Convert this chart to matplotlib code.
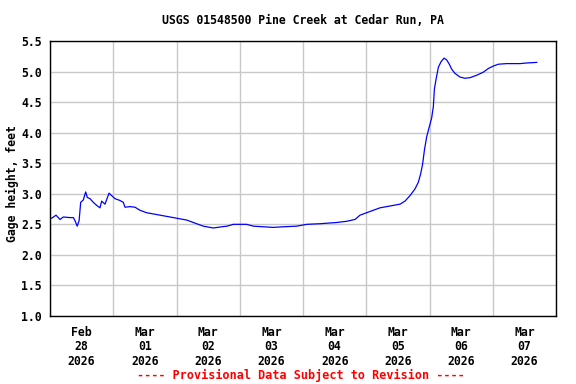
"""USGS gage height plot for Pine Creek at Cedar Run."""
import matplotlib
matplotlib.use("Agg")
import matplotlib.pyplot as plt
import matplotlib.dates as mdates
import pandas as pd

# ── data: days since 2026-02-28 00:00 and gage height (ft) ───────────────────
start = pd.Timestamp("2026-02-28")
days = [0.0, 0.027, 0.095, 0.158, 0.21, 0.316, 0.37, 0.395, 0.43, 0.46,
        0.485, 0.527, 0.564, 0.59, 0.632, 0.685, 0.738, 0.79, 0.817, 0.87,
        0.933, 0.975, 1.028, 1.107, 1.159, 1.186, 1.265, 1.344, 1.423, 1.528,
        1.687, 1.845, 2.003, 2.161, 2.266, 2.424, 2.582, 2.714, 2.80, 2.898,
        3.0, 3.108, 3.215, 3.372, 3.53, 3.689, 3.9, 4.058, 4.269, 4.532,
        4.691, 4.822, 4.901, 5.059, 5.217, 5.375, 5.534, 5.613, 5.692, 5.771,
        5.824, 5.861, 5.892, 5.919, 5.955, 5.998, 6.034, 6.061, 6.077, 6.103,
        6.14, 6.182, 6.229, 6.272, 6.313, 6.35, 6.403, 6.482, 6.561, 6.64,
        6.746, 6.851, 6.93, 7.009, 7.088, 7.22, 7.325, 7.431, 7.536, 7.695]
gage = [2.60, 2.60, 2.65, 2.58, 2.62, 2.61, 2.61, 2.56, 2.47, 2.56,
        2.86, 2.90, 3.03, 2.94, 2.92, 2.86, 2.81, 2.77, 2.88, 2.83,
        3.01, 2.97, 2.92, 2.89, 2.86, 2.78, 2.79, 2.78, 2.73, 2.69,
        2.66, 2.63, 2.60, 2.57, 2.53, 2.47, 2.44, 2.46, 2.47, 2.50,
        2.50, 2.50, 2.47, 2.46, 2.45, 2.46, 2.47, 2.50, 2.51, 2.53,
        2.55, 2.58, 2.65, 2.71, 2.77, 2.80, 2.83, 2.88, 2.97, 3.08,
        3.19, 3.33, 3.49, 3.71, 3.93, 4.10, 4.24, 4.43, 4.71, 4.87,
        5.07, 5.16, 5.22, 5.19, 5.12, 5.04, 4.97, 4.91, 4.89, 4.90,
        4.94, 4.99, 5.05, 5.09, 5.12, 5.13, 5.13, 5.13, 5.14, 5.15]

yticks = [1.0, 1.5, 2.0, 2.5, 3.0, 3.5, 4.0, 4.5, 5.0, 5.5]
title = "USGS 01548500 Pine Creek at Cedar Run, PA"
ylabel = "Gage height, feet"
note = "---- Provisional Data Subject to Revision ----"

times = start + pd.to_timedelta(days, unit="D")

FONT = "DejaVu Sans Mono"

fig = plt.figure(figsize=(5.76, 3.84), dpi=100)
ax = fig.add_axes([50 / 576, 68 / 384, 506 / 576, 275 / 384])
ax.plot(times, gage, color="#0000ff", linewidth=0.9)

ax.set_xlim(start, start + pd.Timedelta(days=8))
ax.set_ylim(1.0, 5.5)
ax.set_yticks(yticks)
ax.set_yticklabels([f"{v:.1f}" for v in yticks], family=FONT,
                   fontweight="bold", fontsize=8.3)

# labels at noon, grid lines at midnight
ax.xaxis.set_major_locator(mdates.HourLocator(byhour=[12]))
ax.xaxis.set_major_formatter(mdates.DateFormatter("%b\n%d\n%Y"))
ax.xaxis.set_minor_locator(mdates.DayLocator())
for lab in ax.get_xticklabels():
    lab.set_family(FONT)
    lab.set_fontweight("bold")
    lab.set_fontsize(8.3)
    lab.set_linespacing(1.15)

ax.tick_params(axis="both", which="both", length=0)
ax.tick_params(axis="y", pad=6)
ax.tick_params(axis="x", pad=7)
ax.grid(True, which="minor", axis="x", color="#c8c8c8", linewidth=1)
ax.grid(True, which="major", axis="y", color="#c8c8c8", linewidth=1)
ax.grid(False, which="major", axis="x")
ax.set_axisbelow(True)
for s in ax.spines.values():
    s.set_color("black")
    s.set_linewidth(1)

fig.text(12 / 576, 1 - 184 / 384, ylabel, rotation=90, ha="center", va="center",
         family=FONT, fontweight="bold", fontsize=8.3)
fig.text(303 / 576, 1 - 20 / 384, title, ha="center", va="center",
         family=FONT, fontweight="bold", fontsize=8.3)
fig.text(301 / 576, 1 - 375 / 384, note, ha="center", va="center",
         family=FONT, fontweight="bold", fontsize=8.5, color="#ff0000")

fig.savefig("out.png", dpi=100)
